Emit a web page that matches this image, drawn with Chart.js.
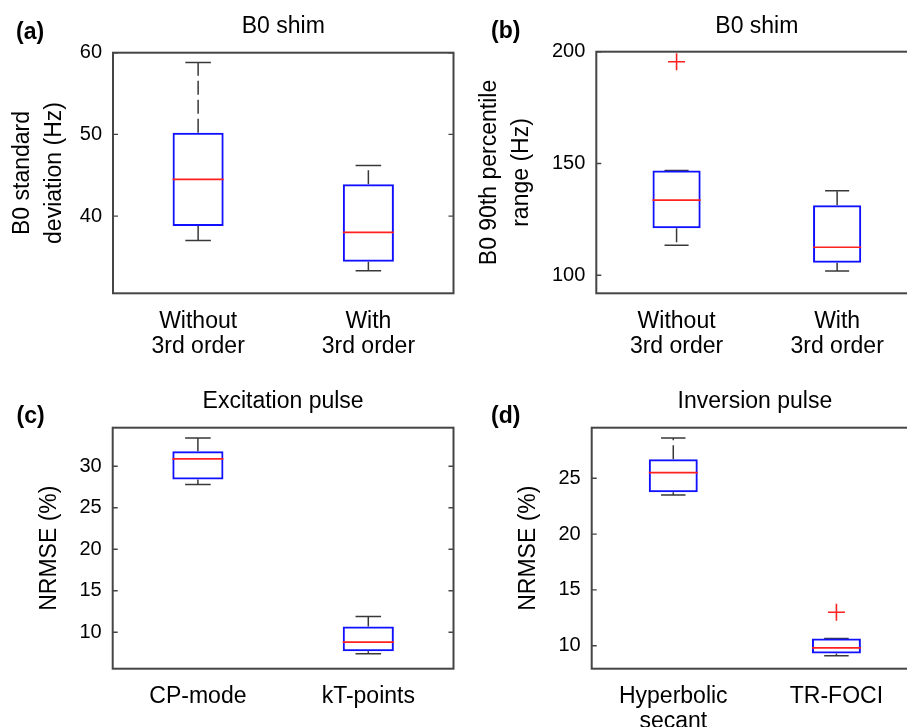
<!DOCTYPE html>
<html>
<head>
<meta charset="utf-8">
<script src="https://cdn.jsdelivr.net/npm/chart.js@4.4.1/dist/chart.umd.min.js"></script>
<style>
  html, body { margin: 0; padding: 0; background: #fff; overflow: hidden; }
  #figure { position: relative; width: 907px; height: 727px; overflow: hidden; }
  #figure canvas { position: absolute; }
</style>
</head>
<body>
<div id="figure">
  <canvas id="panelA" width="460" height="365" style="left:0;top:0"></canvas>
  <canvas id="panelB" width="480" height="365" style="left:453px;top:0"></canvas>
  <canvas id="panelC" width="460" height="362" style="left:0;top:365px"></canvas>
  <canvas id="panelD" width="480" height="362" style="left:453px;top:365px"></canvas>
</div>
<script>
// (a) B0 standard deviation
const shimGroups = [['Without', '3rd order'], ['With', '3rd order']];
const sdLow = [37.0, 33.3];
const sdQ1 = [38.8, 34.4];
const sdMedian = [44.5, 38.0];
const sdQ3 = [50.2, 43.9];
const sdHigh = [58.8, 46.2];
const sdOutliers = [[], []];
const sdTicks = [40, 50, 60];

// (b) B0 90th percentile range
const rangeLow = [113.4, 101.9];
const rangeQ1 = [121.0, 105.6];
const rangeMedian = [133.6, 112.5];
const rangeQ3 = [146.9, 131.3];
const rangeHigh = [146.9, 137.8];
const rangeOutliers = [[195.5], []];
const rangeTicks = [100, 150, 200];

// (c) excitation pulse NRMSE
const excGroups = ['CP-mode', 'kT-points'];
const excLow = [27.8, 7.4];
const excQ1 = [28.4, 7.7];
const excMedian = [30.9, 8.8];
const excQ3 = [31.8, 10.7];
const excHigh = [33.4, 11.9];
const excOutliers = [[], []];
const excTicks = [10, 15, 20, 25, 30];

// (d) inversion pulse NRMSE
const invGroups = [['Hyperbolic', 'secant'], 'TR-FOCI'];
const invLow = [23.5, 9.1];
const invQ1 = [23.75, 9.3];
const invMedian = [25.5, 9.8];
const invQ3 = [26.7, 10.65];
const invHigh = [28.6, 10.65];
const invOutliers = [[], [13.0]];
const invTicks = [10, 15, 20, 25];

const FONT = '"Liberation Sans", Arial, Helvetica, sans-serif';
Chart.defaults.color = '#000';
Chart.defaults.font.family = FONT;

// whiskers + caps go under the boxes, medians on top
const boxPlotPlugin = {
  id: 'boxPlot',
  beforeDatasetsDraw(chart, args, opts) {
    const { ctx } = chart;
    const y = chart.scales.y;
    ctx.save();
    ctx.strokeStyle = '#383838';
    ctx.lineWidth = 1.5;
    chart.getDatasetMeta(0).data.forEach((bar, i) => {
      const x = bar.x;
      const cap = bar.width / 4;
      const pLow = y.getPixelForValue(opts.low[i]);
      const pQ1 = y.getPixelForValue(opts.q1[i]);
      const pQ3 = y.getPixelForValue(opts.q3[i]);
      const pHigh = y.getPixelForValue(opts.high[i]);
      ctx.setLineDash([14, 5]);
      ctx.beginPath();
      ctx.moveTo(x, pQ3); ctx.lineTo(x, pHigh);
      ctx.moveTo(x, pQ1); ctx.lineTo(x, pLow);
      ctx.stroke();
      ctx.setLineDash([]);
      ctx.beginPath();
      ctx.moveTo(x - cap, pHigh); ctx.lineTo(x + cap, pHigh);
      ctx.moveTo(x - cap, pLow); ctx.lineTo(x + cap, pLow);
      ctx.stroke();
    });
    ctx.restore();
  },
  afterDatasetsDraw(chart, args, opts) {
    const { ctx } = chart;
    const y = chart.scales.y;
    ctx.save();
    ctx.strokeStyle = '#ff2020';
    ctx.lineWidth = 1.7;
    chart.getDatasetMeta(0).data.forEach((bar, i) => {
      const half = bar.width / 2;
      const pMed = y.getPixelForValue(opts.median[i]);
      ctx.beginPath();
      ctx.moveTo(bar.x - half, pMed); ctx.lineTo(bar.x + half, pMed);
      ctx.stroke();
    });
    ctx.restore();
  }
};

// axes box with inward ticks, plus the panel letter
const framePlugin = {
  id: 'frame',
  afterDraw(chart, args, opts) {
    const { ctx, chartArea: a } = chart;
    const y = chart.scales.y;
    ctx.save();
    ctx.strokeStyle = '#454545';
    ctx.lineWidth = 2;
    ctx.strokeRect(a.left, a.top, a.right - a.left, a.bottom - a.top);
    ctx.lineWidth = 1.4;
    ctx.beginPath();
    y.ticks.forEach(t => {
      const py = y.getPixelForValue(t.value);
      ctx.moveTo(a.left, py); ctx.lineTo(a.left + 5, py);
      ctx.moveTo(a.right, py); ctx.lineTo(a.right - 5, py);
    });
    ctx.stroke();
    ctx.fillStyle = '#000';
    ctx.font = 'bold 23px ' + FONT;
    ctx.textBaseline = 'middle';
    ctx.fillText(opts.tag, opts.x, opts.y);
    ctx.restore();
  }
};

function makePanel(id, p) {
  // one point dataset per outlier rank, indexed by category
  const outlierSets = [];
  const maxOut = Math.max(...p.outliers.map(l => l.length));
  for (let k = 0; k < maxOut; k++) {
    outlierSets.push({
      type: 'line',
      data: p.outliers.map(l => (k < l.length ? l[k] : null)),
      showLine: false,
      pointStyle: 'cross',
      pointRadius: 8.5,
      borderColor: '#ff2020',
      borderWidth: 1.6
    });
  }
  return new Chart(document.getElementById(id), {
    type: 'bar',
    data: {
      labels: p.labels,
      datasets: [
        {
          data: p.q1.map((v, i) => [v, p.q3[i]]),
          backgroundColor: 'rgba(0,0,0,0)',
          borderColor: '#1010ff',
          borderWidth: 2,
          borderSkipped: false,
          barPercentage: 0.3,
          categoryPercentage: 1
        },
        ...outlierSets
      ]
    },
    options: {
      responsive: false,
      animation: false,
      events: [],
      layout: { padding: { top: 0, left: 0, bottom: 0, right: p.padRight } },
      scales: {
        x: {
          grid: { display: false, drawTicks: false },
          border: { display: false },
          ticks: {
            font: { size: 23, lineHeight: '24.7px' },
            padding: 16,
            maxRotation: 0,
            autoSkip: false
          },
          afterFit(scale) { scale.height = p.xHeight; }
        },
        y: {
          min: p.min,
          max: p.max,
          grid: { display: false, drawTicks: false },
          border: { display: false },
          ticks: { font: { size: 20 }, padding: 11 },
          afterBuildTicks(scale) { scale.ticks = p.ticks.map(v => ({ value: v })); },
          afterFit(scale) { scale.width = p.yWidth; },
          title: {
            display: true,
            text: p.yTitle,
            font: { size: 23, lineHeight: '32px' },
            padding: { top: p.yTitlePad, bottom: 0 }
          }
        }
      },
      plugins: {
        legend: { display: false },
        tooltip: { enabled: false },
        title: {
          display: true,
          text: p.title,
          fullSize: false,
          font: { size: 23, weight: 'normal', lineHeight: '23px' },
          padding: { top: p.titleTop, bottom: p.titleBottom }
        },
        boxPlot: { low: p.low, q1: p.q1, median: p.median, q3: p.q3, high: p.high },
        frame: { tag: p.tag, x: p.tagX, y: p.tagY }
      }
    },
    plugins: [boxPlotPlugin, framePlugin]
  });
}

makePanel('panelA', {
  labels: shimGroups, low: sdLow, q1: sdQ1, median: sdMedian, q3: sdQ3, high: sdHigh,
  outliers: sdOutliers, ticks: sdTicks, min: 30.55, max: 60,
  title: 'B0 shim', yTitle: ['B0 standard', 'deviation (Hz)'], tag: '(a)',
  tagX: 16, tagY: 33, yWidth: 113, yTitlePad: 7, xHeight: 71.7, padRight: 6.5,
  titleTop: 14.8, titleBottom: 14.9
});

makePanel('panelB', {
  labels: shimGroups, low: rangeLow, q1: rangeQ1, median: rangeMedian, q3: rangeQ3, high: rangeHigh,
  outliers: rangeOutliers, ticks: rangeTicks, min: 91.9, max: 200,
  title: 'B0 shim', yTitle: ['B0 90th percentile', 'range (Hz)'], tag: '(b)',
  tagX: 38, tagY: 32, yWidth: 143.3, yTitlePad: 21, xHeight: 71.7, padRight: 15.6,
  titleTop: 14.8, titleBottom: 13.9
});

makePanel('panelC', {
  labels: excGroups, low: excLow, q1: excQ1, median: excMedian, q3: excQ3, high: excHigh,
  outliers: excOutliers, ticks: excTicks, min: 5.6, max: 34.65,
  title: 'Excitation pulse', yTitle: 'NRMSE (%)', tag: '(c)',
  tagX: 16.5, tagY: 51.7, yWidth: 112.7, yTitlePad: 33.5, xHeight: 58.3, padRight: 6.5,
  titleTop: 25.5, titleBottom: 14.2
});

makePanel('panelD', {
  labels: invGroups, low: invLow, q1: invQ1, median: invMedian, q3: invQ3, high: invHigh,
  outliers: invOutliers, ticks: invTicks, min: 7.94, max: 29.53,
  title: 'Inversion pulse', yTitle: 'NRMSE (%)', tag: '(d)',
  tagX: 38, tagY: 51.7, yWidth: 138.7, yTitlePad: 59.5, xHeight: 58.3, padRight: 15,
  titleTop: 25.5, titleBottom: 14.2
});
</script>
</body>
</html>
